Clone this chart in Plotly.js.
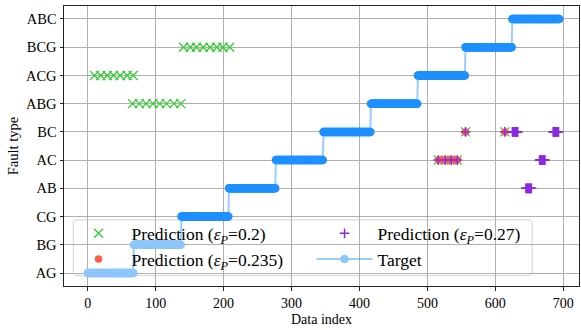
<!DOCTYPE html>
<html>
<head>
<meta charset="utf-8">
<script src="https://cdn.plot.ly/plotly-3.0.1.min.js"></script>
<style>
  html, body { margin: 0; padding: 0; background: #fff; }
  #chart { width: 581px; height: 330px; }
</style>
</head>
<body>
<div id="chart"></div>
<script>
// Fault classes, bottom to top on the y axis
const faultTypes = ['AG', 'BG', 'CG', 'AB', 'AC', 'BC', 'ABG', 'ACG', 'BCG', 'ABC'];

// Target fault type, stored as runs of consecutive data indices
const targetRunLabel = ['AG', 'BG', 'CG', 'AB', 'AC', 'BC', 'ABG', 'ACG', 'BCG', 'ABC'];
const targetRunStart = [0, 68, 138, 208, 277, 347, 417, 486, 556, 625];
const targetRunEnd   = [67, 137, 207, 276, 346, 416, 485, 555, 624, 694];

// Misclassified samples, eps_P = 0.2
const pred020Index = [10, 19, 29, 38, 48, 58, 67,
                      66, 76, 86, 96, 106, 116, 127, 137,
                      141, 151, 160, 170, 180, 190, 199, 209,
                      516, 526, 535, 544, 556, 614];
const pred020Label = ['ACG', 'ACG', 'ACG', 'ACG', 'ACG', 'ACG', 'ACG',
                      'ABG', 'ABG', 'ABG', 'ABG', 'ABG', 'ABG', 'ABG', 'ABG',
                      'BCG', 'BCG', 'BCG', 'BCG', 'BCG', 'BCG', 'BCG', 'BCG',
                      'AC', 'AC', 'AC', 'AC', 'BC', 'BC'];

// Misclassified samples, eps_P = 0.235
const pred0235Index = [516, 521, 526, 531, 535, 540, 544, 556, 614];
const pred0235Label = ['AC', 'AC', 'AC', 'AC', 'AC', 'AC', 'AC', 'BC', 'BC'];

// Misclassified samples, eps_P = 0.27
const pred027Index = [516, 526, 535, 544, 556, 614,
                      625, 626, 627, 628, 629, 630, 631, 632, 633,
                      645, 646, 647, 648, 649, 650, 651, 652, 653,
                      665, 666, 667, 668, 669, 670, 671, 672, 673,
                      685, 686, 687, 688, 689, 690, 691, 692, 693];
const pred027Label = ['AC', 'AC', 'AC', 'AC', 'BC', 'BC',
                      'BC', 'BC', 'BC', 'BC', 'BC', 'BC', 'BC', 'BC', 'BC',
                      'AB', 'AB', 'AB', 'AB', 'AB', 'AB', 'AB', 'AB', 'AB',
                      'AC', 'AC', 'AC', 'AC', 'AC', 'AC', 'AC', 'AC', 'AC',
                      'BC', 'BC', 'BC', 'BC', 'BC', 'BC', 'BC', 'BC', 'BC'];

const xTickValues = [0, 100, 200, 300, 400, 500, 600, 700];

// ---- styling ----
const SERIF = 'Liberation Serif, Times New Roman, serif';
const runColors = ['#8ec6fb', '#8ec6fb', '#1e90ff', '#1e90ff', '#1e90ff',
                   '#1e90ff', '#1e90ff', '#1e90ff', '#1e90ff', '#1e90ff'];

// Expand target runs into one point per data index
const targetX = [], targetY = [], targetColor = [];
targetRunLabel.forEach((label, r) => {
  for (let i = targetRunStart[r]; i <= targetRunEnd[r]; i++) {
    targetX.push(i);
    targetY.push(label);
    targetColor.push(runColors[r]);
  }
});

const traces = [
  {
    type: 'scatter', mode: 'markers', name: 'Prediction (<i>ε<sub>P</sub></i>=0.2)',
    x: pred020Index, y: pred020Label, legendrank: 1,
    marker: { symbol: 'x-thin', size: 9, line: { color: '#33cc33', width: 1.3 }, color: '#33cc33' }
  },
  {
    type: 'scatter', mode: 'markers', name: 'Prediction (<i>ε<sub>P</sub></i>=0.235)',
    x: pred0235Index, y: pred0235Label, legendrank: 3,
    marker: { symbol: 'circle', size: 7.5, color: '#fa6045', line: { width: 0 } }
  },
  {
    type: 'scatter', mode: 'markers', name: 'Prediction (<i>ε<sub>P</sub></i>=0.27)',
    x: pred027Index, y: pred027Label, legendrank: 2,
    marker: { symbol: 'cross-thin', size: 7, line: { color: '#8a2be2', width: 1.5 }, color: '#8a2be2' }
  },
  {
    type: 'scatter', mode: 'lines+markers', name: 'Target',
    x: targetX, y: targetY, legendrank: 4,
    line: { color: 'rgba(30,144,255,0.45)', width: 2 },
    marker: { symbol: 'circle', size: 8.5, color: targetColor, line: { width: 0 } }
  }
];

// Rounded legend frame, drawn between the grid and the data
function roundedRect(x0, y0, x1, y1, rx, ry) {
  return `M${x0 + rx},${y0} L${x1 - rx},${y0} Q${x1},${y0} ${x1},${y0 + ry} ` +
         `L${x1},${y1 - ry} Q${x1},${y1} ${x1 - rx},${y1} L${x0 + rx},${y1} ` +
         `Q${x0},${y1} ${x0},${y1 - ry} L${x0},${y0 + ry} Q${x0},${y0} ${x0 + rx},${y0} Z`;
}

const layout = {
  width: 581, height: 330,
  margin: { l: 64, r: 2, t: 6, b: 44 },
  paper_bgcolor: '#fff', plot_bgcolor: '#fff',
  font: { family: SERIF, size: 14, color: '#000' },
  showlegend: true,
  legend: {
    orientation: 'h', x: 0.003, y: 0.252, xanchor: 'left', yanchor: 'top',
    bgcolor: 'rgba(0,0,0,0)', borderwidth: 0,
    font: { family: SERIF, size: 17.5, color: '#000' },
    entrywidth: 175, entrywidthmode: 'pixels', itemwidth: 56
  },
  xaxis: {
    range: [-34.9, 723.1], tickvals: xTickValues, ticktext: xTickValues.map(String),
    showgrid: true, gridcolor: '#b0b0b0', gridwidth: 1,
    showline: true, linecolor: '#222', linewidth: 1, mirror: true,
    ticks: 'outside', ticklen: 3.5, tickcolor: '#222', tickwidth: 1,
    ticklabelstandoff: 1,
    zeroline: false, tickfont: { family: SERIF, size: 14 },
    title: { text: 'Data index', font: { family: SERIF, size: 14 }, standoff: 3 }
  },
  yaxis: {
    type: 'category', categoryorder: 'array', categoryarray: faultTypes,
    range: [-0.46, 9.46],
    showgrid: true, gridcolor: '#b0b0b0', gridwidth: 1,
    showline: true, linecolor: '#222', linewidth: 1, mirror: true,
    ticks: 'outside', ticklen: 3.5, tickcolor: '#222', tickwidth: 1,
    zeroline: false, tickfont: { family: SERIF, size: 14.5 },
    title: { text: 'Fault type', font: { family: SERIF, size: 14.5 }, standoff: 3 }
  },
  shapes: [{
    type: 'path', xref: 'paper', yref: 'paper', layer: 'between',
    path: roundedRect(0.018, 0.037, 0.909, 0.236, 0.006, 0.011),
    fillcolor: 'rgba(255,255,255,0.8)', line: { color: '#d4d4d4', width: 1 }
  }]
};

Plotly.newPlot('chart', traces, layout, { staticPlot: true, displayModeBar: false });
</script>
</body>
</html>
